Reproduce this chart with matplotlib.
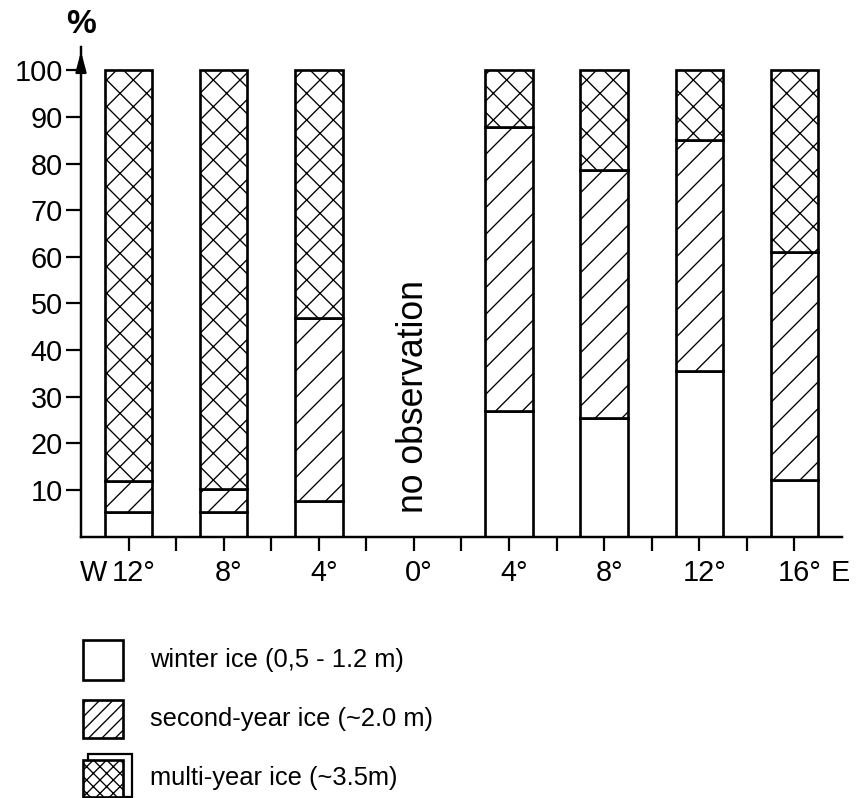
import matplotlib
matplotlib.use('Agg')
import matplotlib.pyplot as plt
from matplotlib.patches import Rectangle
from matplotlib.transforms import ScaledTranslation

plt.rcParams['font.family'] = ['Liberation Sans', 'DejaVu Sans']
plt.rcParams['hatch.linewidth'] = 0.6

# longitude of each column (W negative, E positive), 0 deg has no observation
longitude = [-12, -8, -4, 4, 8, 12, 16]
winter_ice = [5.2, 5.3, 7.7, 27.0, 25.5, 35.5, 12.2]
second_year_ice = [6.6, 4.9, 39.2, 60.8, 53.1, 49.5, 48.8]
multi_year_ice = [88.2, 89.8, 53.1, 12.2, 21.4, 15.0, 39.0]

major_ticks = [-12, -8, -4, 0, 4, 8, 12, 16]
major_labels = ['12°', '8°', '4°', '0°', '4°', '8°', '12°', '16°']
minor_ticks = [-10, -6, -2, 2, 6, 10, 14]
y_ticks = [10, 20, 30, 40, 50, 60, 70, 80, 90, 100]

legend_labels = ['winter ice (0,5 - 1.2 m)',
                 'second-year ice (~2.0 m)',
                 'multi-year ice (~3.5m)']

W, H, DPI = 856, 798, 160
fig = plt.figure(figsize=(W / DPI, H / DPI), dpi=DPI)
fig.patch.set_facecolor('white')

# axes box in pixels: x 81..842, y 47..536.5
ax = fig.add_axes([81 / W, (H - 536.5) / H, (842 - 81) / W, (536.5 - 47) / H])
ax.set_xlim(-14, 18)
ax.set_ylim(0, 105)

lw = 1.2
bottom2 = [a for a in winter_ice]
bottom3 = [a + b for a, b in zip(winter_ice, second_year_ice)]
ax.bar(longitude, winter_ice, width=2, color='white', edgecolor='black', linewidth=lw)
ax.bar(longitude, second_year_ice, width=2, bottom=bottom2, color='white',
       edgecolor='black', linewidth=lw, hatch='//')
ax.bar(longitude, multi_year_ice, width=2, bottom=bottom3, color='white',
       edgecolor='black', linewidth=lw, hatch='xx')

ax.text(0, 30, 'no observation', rotation=90, ha='center', va='center', fontsize=16)

# spines / axes
for s in ['top', 'right']:
    ax.spines[s].set_visible(False)
for s in ['left', 'bottom']:
    ax.spines[s].set_linewidth(1.1)
ax.annotate('', xy=(0, 1.0), xycoords='axes fraction', xytext=(0, 0.95),
            arrowprops=dict(arrowstyle='-|>,head_length=0.75,head_width=0.2',
                            color='black', lw=1.1, mutation_scale=10))
ax.annotate('%', xy=(0, 1), xycoords='axes fraction', xytext=(0, 10),
            textcoords='offset points', ha='center', va='center',
            fontsize=15, fontweight='bold')

ax.set_yticks(y_ticks)
ax.tick_params(axis='y', direction='out', length=6.75, width=1.0, pad=1.5, labelsize=13)
ax.set_xticks(major_ticks)
ax.set_xticklabels(major_labels)
ax.set_xticks(minor_ticks, minor=True)
ax.tick_params(axis='x', which='both', direction='out', length=6.3, width=1.0,
               pad=4, labelsize=13)
shift = ScaledTranslation(5 / DPI, 0, fig.dpi_scale_trans)
for lab in ax.get_xticklabels():
    lab.set_transform(lab.get_transform() + shift)

ax.annotate('W', xy=(-12, 0), xycoords=('data', 'axes fraction'), xytext=(-9.5, -10.3),
            textcoords='offset points', ha='right', va='top', fontsize=13)
ax.annotate('E', xy=(16, 0), xycoords=('data', 'axes fraction'), xytext=(16.5, -10.3),
            textcoords='offset points', ha='left', va='top', fontsize=13)

# legend, drawn in pixel coordinates
lg = fig.add_axes([0, 0, 1, 1])
lg.set_xlim(0, W)
lg.set_ylim(H, 0)
lg.axis('off')
lg.add_patch(Rectangle((83, 640), 40, 40, facecolor='white', edgecolor='black', lw=1.2))
lg.add_patch(Rectangle((83, 700), 40, 38, facecolor='white', edgecolor='black', lw=1.2,
                       hatch='////'))
lg.add_patch(Rectangle((88, 754), 44, 43, facecolor='white', edgecolor='black', lw=1.0))
lg.add_patch(Rectangle((83, 760), 40, 37, facecolor='white', edgecolor='black', lw=1.2,
                       hatch='xxxx'))
for yy, lab in zip([660, 719, 778], legend_labels):
    lg.text(150, yy, lab, ha='left', va='center', fontsize=11.5)

fig.savefig('out.png', dpi=DPI, facecolor='white')
